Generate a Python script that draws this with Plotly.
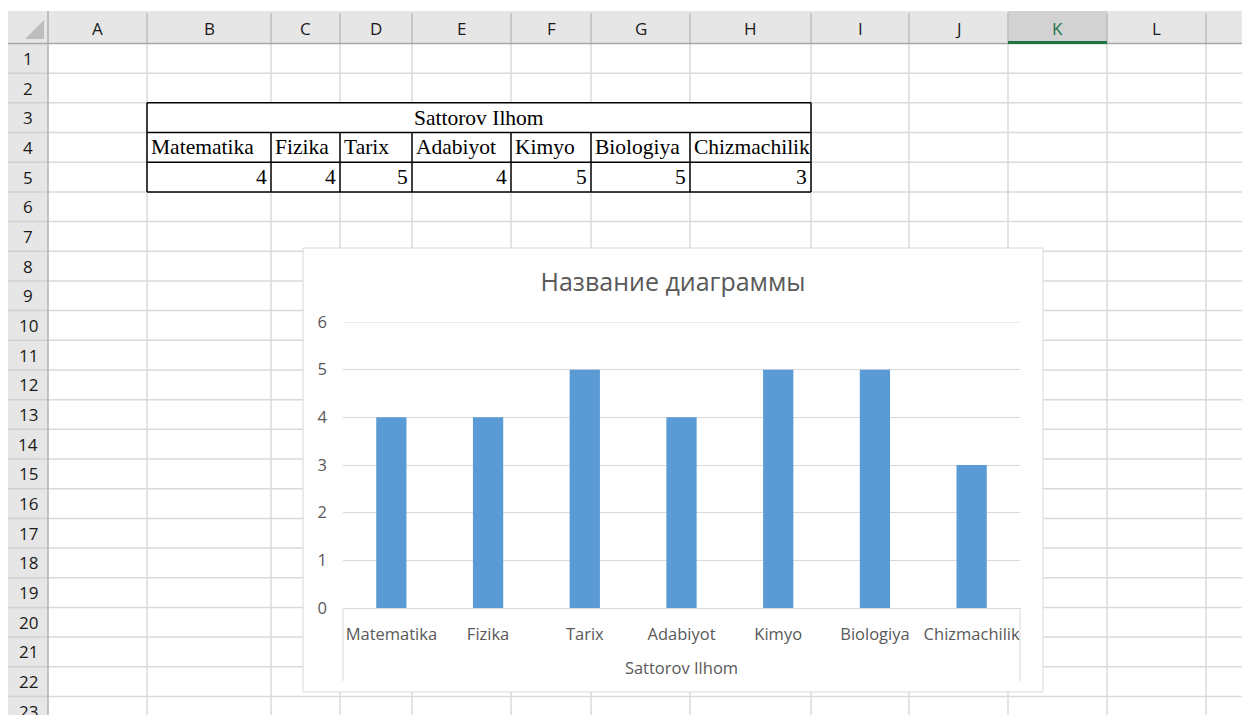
import plotly.graph_objects as go

# ---------------- data ----------------
student = "Sattorov Ilhom"
categories = ["Matematika", "Fizika", "Tarix", "Adabiyot", "Kimyo", "Biologiya", "Chizmachilik"]
grades = [4, 4, 5, 4, 5, 5, 3]
chart_title = "Название диаграммы"
y_tick_values = [0, 1, 2, 3, 4, 5, 6]
col_letters = ["A", "B", "C", "D", "E", "F", "G", "H", "I", "J", "K", "L", "M"]

# ---------------- layout constants (pixels, in window coordinates) ----------------
WIN_W, WIN_H = 1250, 715
OFF = 8                      # page body margin
W, H = WIN_W - OFF, WIN_H - OFF
col_edges = [48, 147, 271, 340, 412, 511, 591, 690, 811, 909, 1008, 1107, 1206, 1296]
hdr_top, hdr_bot = 11, 43.5
row_h = 29.68
n_rows = 23
row_edges = [hdr_bot + row_h * i for i in range(n_rows + 1)]
rowhdr_left = 8

chart_box = (303, 248, 1043, 692)     # x0, y0, x1, y1
plot_x0, plot_x1 = 343, 1020
plot_y_top, plot_y_bot = 322, 608
divider_bottom = 681

GRID = "#DADADA"
HDR_BG = "#E6E6E6"
TXT = "#595959"


def px(x):
    return (x - OFF) / W


def py(y):
    return 1 - (y - OFF) / H


shapes = []
annotations = []


def line(x0, y0, x1, y1, color, width=1, layer="below"):
    shapes.append(dict(type="line", xref="paper", yref="paper",
                       x0=px(x0), y0=py(y0), x1=px(x1), y1=py(y1),
                       line=dict(color=color, width=width), layer=layer))


def rect(x0, y0, x1, y1, fill, color=None, width=0, layer="below"):
    shapes.append(dict(type="rect", xref="paper", yref="paper",
                       x0=px(x0), y0=py(y0), x1=px(x1), y1=py(y1),
                       fillcolor=fill,
                       line=dict(color=color or fill, width=width), layer=layer))


def text(x, y, s, size=16, color="#222222", family="Open Sans", xanchor="center"):
    annotations.append(dict(text=s, xref="paper", yref="paper", x=px(x), y=py(y),
                            xanchor=xanchor, yanchor="middle", showarrow=False,
                            font=dict(size=size, color=color, family=family)))


# ---------------- spreadsheet ----------------
rect(rowhdr_left, hdr_top, WIN_W + 5, hdr_bot, HDR_BG)
rect(rowhdr_left, hdr_bot, col_edges[0], WIN_H + 5, HDR_BG)
k_idx = col_letters.index("K")
rect(col_edges[k_idx], hdr_top, col_edges[k_idx + 1], hdr_bot, "#D2D2D2")

for x in col_edges[1:]:
    line(x, hdr_bot, x, WIN_H + 5, GRID, 1.5)
for y in row_edges[1:]:
    line(col_edges[0], y, WIN_W + 5, y, GRID, 1.5)

for x in col_edges[1:]:
    line(x, hdr_top + 2, x, hdr_bot, "#BDBDBD", 1.5)
for y in row_edges[1:]:
    line(rowhdr_left, y, col_edges[0], y, "#D0D0D0", 1.5)
line(rowhdr_left, hdr_bot, WIN_W + 5, hdr_bot, "#A8A8A8", 1.5)
line(col_edges[0], hdr_top, col_edges[0], WIN_H + 5, "#B0B0B0", 1.5)
line(col_edges[k_idx], hdr_bot - 1, col_edges[k_idx + 1], hdr_bot - 1, "#217346", 3)

shapes.append(dict(type="path", xref="paper", yref="paper",
                   path=f"M {px(25)},{py(39)} L {px(44)},{py(39)} L {px(44)},{py(20)} Z",
                   fillcolor="#BDBDBD", line=dict(width=0), layer="below"))

for i, c in enumerate(col_letters):
    cx = (col_edges[i] + col_edges[i + 1]) / 2
    text(cx, (hdr_top + hdr_bot) / 2 + 1, c, 17,
         "#217346" if c == "K" else "#1A1A1A")
for r in range(1, n_rows + 1):
    cy = (row_edges[r - 1] + row_edges[r]) / 2
    text(28, cy, str(r), 17, "#1A1A1A")

# data table B3:H5
tx0 = col_edges[1]
tx1 = col_edges[1 + len(categories)]
ty = [row_edges[2], row_edges[3], row_edges[4], row_edges[5]]
rect(tx0, ty[0], tx1, ty[3], "#FFFFFF", layer="below")
for yy in ty:
    line(tx0, yy, tx1, yy, "#000000", 1.5)
line(tx0, ty[0], tx0, ty[3], "#000000", 1.5)
line(tx1, ty[0], tx1, ty[3], "#000000", 1.5)
for i in range(1, len(categories)):
    line(col_edges[1 + i], ty[1], col_edges[1 + i], ty[3], "#000000", 1.5)

SERIF = "Liberation Serif, Times New Roman, serif"
text((tx0 + tx1) / 2, (ty[0] + ty[1]) / 2, student, 21.5, "#000000", SERIF)
for i, (cat, g) in enumerate(zip(categories, grades)):
    cx0, cx1 = col_edges[1 + i], col_edges[2 + i]
    text(cx0 + 2, (ty[1] + ty[2]) / 2, cat, 21.5, "#000000", SERIF, "left")
    text(cx1 - 2, (ty[2] + ty[3]) / 2, str(g), 21.5, "#000000", SERIF, "right")

# ---------------- chart area ----------------
rect(*chart_box, "#FFFFFF", "#D9D9D9", 1)
line(plot_x0, plot_y_bot, plot_x0, divider_bottom, "#D9D9D9", 1, "above")
line(plot_x1, plot_y_bot, plot_x1, divider_bottom, "#D9D9D9", 1, "above")
# top gridline (Plotly skips the gridline lying on the plot edge)
shapes.append(dict(type="line", xref="paper", yref="y",
                   x0=px(plot_x0), x1=px(plot_x1),
                   y0=max(y_tick_values), y1=max(y_tick_values),
                   line=dict(color="#D9D9D9", width=1), layer="below"))

fig = go.Figure(go.Bar(
    x=categories, y=grades,
    marker=dict(color="#5B9BD5", line=dict(width=0)),
    hoverinfo="x+y",
))

fig.update_layout(
    width=W, height=H,
    margin=dict(l=0, r=0, t=0, b=0),
    paper_bgcolor="#FFFFFF",
    plot_bgcolor="rgba(0,0,0,0)",
    showlegend=False,
    bargap=0.687,
    shapes=shapes,
    annotations=annotations,
    title=dict(text=chart_title, xref="paper", yref="paper",
               x=px((chart_box[0] + chart_box[2]) / 2), y=py(282),
               xanchor="center", yanchor="middle",
               font=dict(size=25, color=TXT, family="Open Sans")),
    xaxis=dict(
        domain=[px(plot_x0), px(plot_x1)],
        type="category",
        showline=True, linecolor="#D9D9D9", linewidth=1,
        showgrid=False, zeroline=False, ticks="",
        ticklabelstandoff=11,
        tickfont=dict(size=16.5, color=TXT, family="Open Sans"),
        title=dict(text=student, standoff=18,
                   font=dict(size=16.5, color=TXT, family="Open Sans")),
        automargin=False,
        fixedrange=True,
    ),
    yaxis=dict(
        domain=[py(plot_y_bot), py(plot_y_top)],
        range=[0, max(y_tick_values)],
        tickvals=y_tick_values,
        showgrid=True, gridcolor="#D9D9D9", gridwidth=1,
        showline=False, zeroline=False, ticks="",
        ticklabelstandoff=15,
        tickfont=dict(size=16.5, color=TXT, family="Open Sans"),
        automargin=False,
        fixedrange=True,
    ),
)

fig.write_html("out.html")
